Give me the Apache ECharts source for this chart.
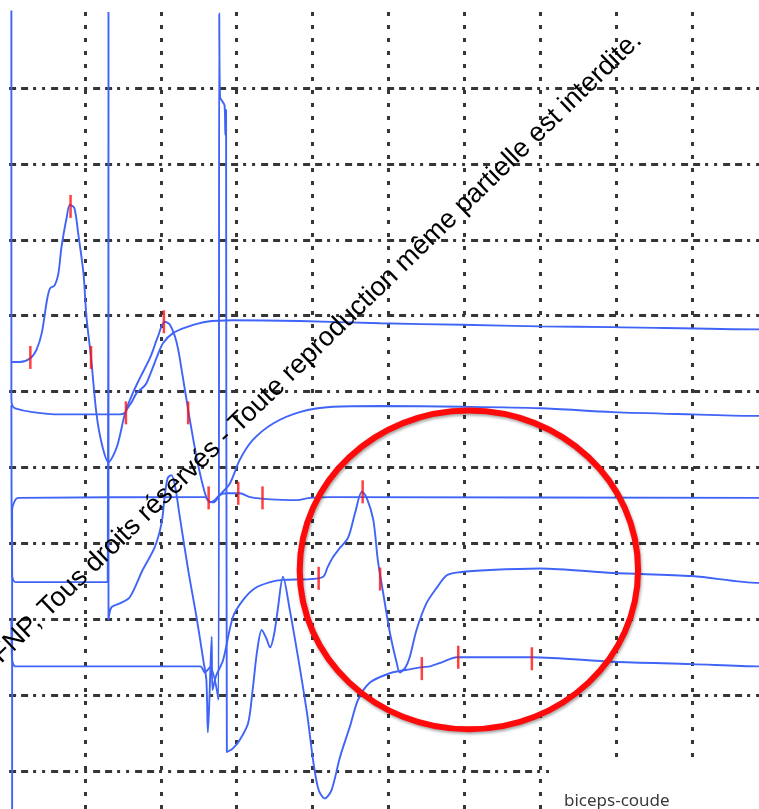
<!DOCTYPE html>
<html><head><meta charset="utf-8">
<script src="https://cdn.jsdelivr.net/npm/echarts@6/dist/echarts.min.js"></script>
<style>html,body{margin:0;padding:0;background:#fff;overflow:hidden}#c{width:759px;height:809px}</style>
</head><body><div id="c"></div>
<script>
// x: time in grid divisions, y: amplitude in grid divisions
const trace1 = [[0.03,10.02],[0.03,5.39],[0.14,5.39],[0.28,5.44],[0.36,5.55],[0.43,5.77],[0.50,6.21],[0.54,6.36],[0.60,6.40],[0.65,6.56],[0.69,6.90],[0.76,7.30],[0.80,7.46],[0.86,7.42],[0.91,7.09],[0.98,6.56],[1.02,5.98],[1.08,5.45],[1.15,4.72],[1.22,4.32],[1.31,4.07],[1.42,4.27],[1.53,4.72],[1.63,4.98],[1.73,5.19],[1.86,5.45],[1.96,5.72],[2.05,5.92],[2.12,5.88],[2.21,5.64],[2.29,5.19],[2.36,4.76],[2.47,4.14],[2.56,3.74],[2.62,3.57],[2.69,3.54],[2.78,3.64],[2.91,3.79],[3.04,4.10],[3.21,4.36],[3.48,4.58],[3.83,4.73],[4.27,4.80],[4.89,4.81],[5.98,4.80],[7.00,4.78],[7.96,4.73],[9.00,4.70],[9.88,4.68],[10,4.68]];
const trace2 = [[0.03,5.39],[0.03,4.91],[0.04,4.82],[0.08,4.78],[0.31,4.73],[0.67,4.70],[1.46,4.70],[1.53,4.72],[1.55,4.76],[1.62,4.87],[1.68,4.98],[1.77,5.06],[1.81,5.11],[1.88,5.28],[1.95,5.46],[2.03,5.64],[2.16,5.77],[2.34,5.85],[2.60,5.92],[2.95,5.94],[3.83,5.93],[4.89,5.90],[5.98,5.88],[7.00,5.86],[7.96,5.85],[9.88,5.82],[10,5.82]];
const trace3 = [[0.03,4.82],[0.04,2.57],[0.08,2.49],[0.14,2.49],[1.30,2.49],[1.31,10.0],[1.31,1.99],[1.35,2.16],[1.46,2.21],[1.59,2.29],[1.76,2.65],[1.92,2.95],[2.01,3.27],[2.05,3.61],[2.09,3.86],[2.14,3.90],[2.19,3.74],[2.25,3.35],[2.36,2.65],[2.47,2.03],[2.56,1.46],[2.60,1.20],[2.62,0.51],[2.64,0.94],[2.67,1.77],[2.68,1.07],[2.73,1.26],[2.82,1.46],[2.95,2.03],[3.08,2.25],[3.24,2.41],[3.44,2.49],[3.61,2.52],[3.97,2.53],[4.14,2.56],[4.20,2.69],[4.27,2.82],[4.36,2.94],[4.47,3.08],[4.56,3.40],[4.65,3.68],[4.71,3.61],[4.80,3.31],[4.86,2.78],[4.93,2.35],[5.02,1.82],[5.11,1.42],[5.15,1.30],[5.22,1.36],[5.28,1.50],[5.37,1.86],[5.50,2.21],[5.64,2.42],[5.77,2.58],[5.94,2.62],[6.34,2.65],[7.00,2.67],[7.96,2.61],[9.00,2.57],[9.88,2.48],[10,2.48]];
const trace4 = [[0.04,-0.50],[0.04,3.44],[0.08,3.57],[0.12,3.60],[2.58,3.61],[2.65,3.54],[2.71,3.57],[2.78,3.64],[2.87,3.66],[3.04,3.66],[3.18,3.61],[3.44,3.58],[3.79,3.57],[3.97,3.60],[4.23,3.61],[9.88,3.60],[10,3.60]];
const trace5 = [[0.03,1.99],[0.04,1.46],[0.08,1.38],[0.14,1.38],[2.52,1.38],[2.58,1.30],[2.65,1.37],[2.76,0.94],[2.77,9.99],[2.78,8.88],[2.84,8.77],[2.85,8.38],[2.86,8.71],[2.87,0.25],[2.95,0.30],[3.04,0.41],[3.15,0.63],[3.21,1.07],[3.27,1.59],[3.33,1.86],[3.39,1.75],[3.44,1.63],[3.49,1.79],[3.54,2.12],[3.61,2.56],[3.70,2.12],[3.83,1.37],[3.93,0.74],[4.01,0.12],[4.08,-0.25],[4.16,-0.36],[4.25,-0.25],[4.36,0.18],[4.49,0.58],[4.60,0.94],[4.76,1.17],[5.02,1.29],[5.15,1.32],[5.28,1.34],[5.44,1.37],[5.55,1.38],[5.72,1.44],[5.90,1.50],[6.21,1.50],[6.89,1.50],[7.96,1.44],[9.00,1.41],[9.88,1.38],[10,1.38]];
const cursorMarks = [[0.28,5.45],[0.81,7.44],[1.08,5.45],[1.54,4.72],[2.04,5.92],[2.36,4.72],[2.63,3.60],[3.02,3.66],[3.34,3.60],[4.08,2.54],[4.66,3.68],[4.89,2.53],[5.44,1.35],[5.92,1.50],[6.89,1.48]];
const circleCenter = [6.06, 2.65];
const circleRadius = [2.23, 2.10];
const watermarkText = '© SFNP, Tous droits réservés - Toute reproduction même partielle est interdite.';
const traceLabel = 'biceps-coude';

const chart = echarts.init(document.getElementById('c'), null, {renderer:'canvas'});
const traceStyle = {color:'#3f64f7', width:1.9};
function lineSeries(data){
  return {type:'line', data:data, showSymbol:false, symbol:'none', clip:false, smooth:0.3,
    lineStyle:traceStyle, z:3, silent:true};
}
chart.setOption({
  animation:false,
  backgroundColor:'#fff',
  grid:{left:9.1, top:12.1, width:758.7, height:834.9, containLabel:false, outerBoundsMode:'none'},
  xAxis:{type:'value', min:0, max:10, interval:1,
    axisLine:{show:false}, axisTick:{show:false}, axisLabel:{show:false},
    splitLine:{show:true, showMinLine:false, lineStyle:{color:'#363636', width:3, type:[4,9]}}},
  yAxis:{type:'value', min:-1, max:10, interval:1,
    axisLine:{show:false}, axisTick:{show:false}, axisLabel:{show:false},
    splitLine:{show:true, showMaxLine:false, lineStyle:{color:'#363636', width:3, type:[7,5,7,5,3,6,3,6]}}},
  series:[
    lineSeries(trace1), lineSeries(trace2), lineSeries(trace3), lineSeries(trace4), lineSeries(trace5),
    {type:'scatter', data:cursorMarks, symbol:'rect', symbolSize:[2.5,23], itemStyle:{color:'#ff1010'}, z:5, silent:true}
  ]
});
const c0 = chart.convertToPixel({xAxisIndex:0, yAxisIndex:0}, circleCenter);
const c1 = chart.convertToPixel({xAxisIndex:0, yAxisIndex:0}, [circleCenter[0]+circleRadius[0], circleCenter[1]+circleRadius[1]]);
chart.setOption({graphic:[
  {type:'rect', z:1, shape:{x:549, y:757, width:230, height:60}, style:{fill:'#fff'}},
  {type:'ellipse', z:50, shape:{cx:c0[0], cy:c0[1], rx:Math.abs(c1[0]-c0[0]), ry:Math.abs(c1[1]-c0[1])},
    style:{fill:'none', stroke:'#ff0a0a', lineWidth:6, shadowBlur:3, shadowOffsetX:1, shadowOffsetY:2, shadowColor:'rgba(0,0,0,0.35)'}},
  {type:'text', z:60, x:647, y:46, rotation:0.77,
    style:{text:watermarkText, font:'27px "Liberation Sans", Arial, sans-serif', fill:'#000', align:'right', verticalAlign:'bottom'}},
  {type:'text', z:60, x:564, y:810,
    style:{text:traceLabel, font:'17px "Noto Sans", sans-serif', fill:'#3a3a3a', align:'left', verticalAlign:'bottom'}}
]});
</script></body></html>
